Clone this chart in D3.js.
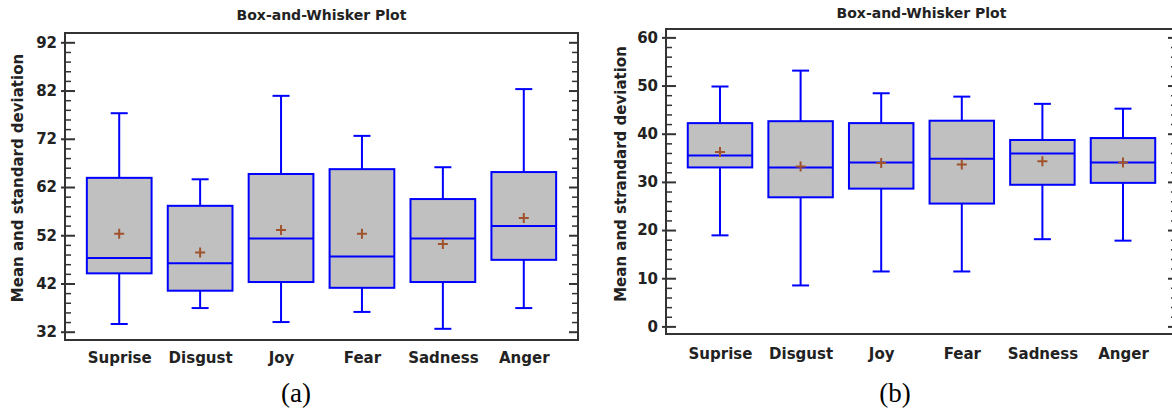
<!DOCTYPE html>
<html>
<head>
<meta charset="utf-8">
<script src="https://cdn.jsdelivr.net/npm/d3@7"></script>
<style>
  html, body { margin: 0; padding: 0; background: #fff; }
  svg { display: block; }
</style>
</head>
<body>
<svg id="chart" width="1172" height="414"></svg>
<script>
// ---------- data ----------
const categories = ["Suprise", "Disgust", "Joy", "Fear", "Sadness", "Anger"];

// panel (a)
const aLow    = [33.6, 36.9, 34.0, 36.1, 32.6, 36.9];
const aQ1     = [44.1, 40.5, 42.3, 41.1, 42.3, 46.9];
const aMedian = [47.3, 46.2, 51.3, 47.6, 51.3, 53.9];
const aQ3     = [63.9, 58.1, 64.7, 65.7, 59.5, 65.1];
const aHigh   = [77.3, 63.6, 80.9, 72.6, 66.1, 82.3];
const aMean   = [52.3, 48.4, 53.1, 52.3, 50.2, 55.6];
const aTicks  = [32, 42, 52, 62, 72, 82, 92];

// panel (b)
const bLow    = [18.9, 8.5, 11.4, 11.4, 18.1, 17.8];
const bQ1     = [33.0, 26.8, 28.6, 25.5, 29.4, 29.8];
const bMedian = [35.5, 33.0, 34.0, 34.8, 35.9, 34.0];
const bQ3     = [42.2, 42.6, 42.2, 42.7, 38.7, 39.1];
const bHigh   = [49.8, 53.1, 48.4, 47.7, 46.2, 45.2];
const bMean   = [36.2, 33.2, 33.9, 33.6, 34.3, 34.0];
const bTicks  = [0, 10, 20, 30, 40, 50, 60];

const chartTitle = "Box-and-Whisker Plot";
const aYLabel = "Mean and standard deviation";
const bYLabel = "Mean and strandard deviation";

// ---------- drawing ----------
const svg = d3.select("#chart");
const FONT = "'DejaVu Sans', Verdana, sans-serif";
const TXT = "#222";
const FRAME = "#333";
const BLUE = "#0000ff";
const FILL = "#c0c0c0";
const MEANC = "#a0522d";

function drawPanel(cfg) {
  const { left, right, top, bottom, domain, ticks, low, q1, med, q3, high, mean,
          yLabel, yLabelX, titleY, catY, caption, captionX } = cfg;
  const g = svg.append("g");

  const x = d3.scalePoint().domain(categories).range([left, right]).padding(0.67);
  const y = d3.scaleLinear().domain(domain).range([bottom, top]);

  // minor ticks every 2 units
  const minor = d3.range(Math.ceil(domain[0] / 2) * 2, domain[1], 2)
    .filter(v => !ticks.includes(v));

  // left axis
  const leftAxis = g.append("g").attr("transform", `translate(${left},0)`)
    .call(d3.axisLeft(y).tickValues(ticks).tickSize(4).tickPadding(4).tickFormat(d3.format("d")));
  leftAxis.select(".domain").remove();
  leftAxis.selectAll(".tick line").attr("x2", -4).attr("x1", 10)
    .attr("stroke", FRAME).attr("stroke-width", 2);
  leftAxis.selectAll(".tick text")
    .attr("x", -8)
    .style("font-family", FONT).style("font-weight", "bold").style("font-size", "15px")
    .attr("fill", TXT);

  const leftMinor = g.append("g").attr("transform", `translate(${left},0)`)
    .call(d3.axisRight(y).tickValues(minor).tickSize(6).tickFormat(""));
  leftMinor.select(".domain").remove();
  leftMinor.selectAll(".tick line").attr("stroke", FRAME).attr("stroke-width", 1.5);

  // right axis (ticks pointing inward)
  const rightAxis = g.append("g").attr("transform", `translate(${right},0)`)
    .call(d3.axisLeft(y).tickValues(ticks).tickSize(9).tickFormat(""));
  rightAxis.select(".domain").remove();
  rightAxis.selectAll(".tick line").attr("stroke", FRAME).attr("stroke-width", 2);
  const rightMinor = g.append("g").attr("transform", `translate(${right},0)`)
    .call(d3.axisLeft(y).tickValues(minor).tickSize(6).tickFormat(""));
  rightMinor.select(".domain").remove();
  rightMinor.selectAll(".tick line").attr("stroke", FRAME).attr("stroke-width", 1.5);

  // bottom axis: category labels only
  const bottomAxis = g.append("g").attr("transform", `translate(0,${bottom})`)
    .call(d3.axisBottom(x).tickSize(0).tickPadding(0));
  bottomAxis.select(".domain").remove();
  bottomAxis.selectAll(".tick text")
    .attr("y", catY - bottom).attr("dy", "0")
    .style("font-family", FONT).style("font-weight", "bold").style("font-size", "15px")
    .attr("fill", TXT);

  // frame
  g.append("rect")
    .attr("x", left).attr("y", top)
    .attr("width", right - left).attr("height", bottom - top)
    .attr("fill", "none").attr("stroke", FRAME).attr("stroke-width", 2);

  const boxW = x.step() * 0.8;
  const capW = 17;

  const data = categories.map((c, i) => ({
    c, low: low[i], q1: q1[i], med: med[i], q3: q3[i], high: high[i], mean: mean[i]
  }));

  const box = g.selectAll(".box").data(data).enter().append("g").attr("class", "box");

  // whiskers
  box.append("line")
    .attr("x1", d => x(d.c)).attr("x2", d => x(d.c))
    .attr("y1", d => y(d.high)).attr("y2", d => y(d.q3))
    .attr("stroke", BLUE).attr("stroke-width", 2);
  box.append("line")
    .attr("x1", d => x(d.c)).attr("x2", d => x(d.c))
    .attr("y1", d => y(d.q1)).attr("y2", d => y(d.low))
    .attr("stroke", BLUE).attr("stroke-width", 2);
  // caps
  box.append("line")
    .attr("x1", d => x(d.c) - capW / 2).attr("x2", d => x(d.c) + capW / 2)
    .attr("y1", d => y(d.high)).attr("y2", d => y(d.high))
    .attr("stroke", BLUE).attr("stroke-width", 2);
  box.append("line")
    .attr("x1", d => x(d.c) - capW / 2).attr("x2", d => x(d.c) + capW / 2)
    .attr("y1", d => y(d.low)).attr("y2", d => y(d.low))
    .attr("stroke", BLUE).attr("stroke-width", 2);
  // box
  box.append("rect")
    .attr("x", d => x(d.c) - boxW / 2).attr("width", boxW)
    .attr("y", d => y(d.q3)).attr("height", d => y(d.q1) - y(d.q3))
    .attr("fill", FILL).attr("stroke", BLUE).attr("stroke-width", 2);
  // median
  box.append("line")
    .attr("x1", d => x(d.c) - boxW / 2).attr("x2", d => x(d.c) + boxW / 2)
    .attr("y1", d => y(d.med)).attr("y2", d => y(d.med))
    .attr("stroke", BLUE).attr("stroke-width", 2);
  // mean plus
  box.append("path")
    .attr("d", d => {
      const cx = x(d.c), cy = y(d.mean);
      return `M${cx - 5},${cy}H${cx + 5}M${cx},${cy - 5}V${cy + 5}`;
    })
    .attr("stroke", MEANC).attr("stroke-width", 2).attr("fill", "none");

  // title
  svg.append("text")
    .attr("x", (left + Math.min(right, 1172 + 5)) / 2).attr("y", titleY)
    .attr("text-anchor", "middle")
    .style("font-family", FONT).style("font-weight", "bold").style("font-size", "14px")
    .attr("fill", TXT).text(chartTitle);

  // y label
  svg.append("text")
    .attr("transform", `translate(${yLabelX},${cfg.yLabelY}) rotate(-90)`)
    .attr("text-anchor", "middle").attr("dy", "0.35em")
    .style("font-family", FONT).style("font-weight", "bold").style("font-size", "15px")
    .attr("fill", TXT).text(yLabel);

  // caption
  svg.append("text")
    .attr("x", captionX).attr("y", 402)
    .attr("text-anchor", "middle")
    .style("font-family", "'Liberation Serif', 'Times New Roman', serif")
    .style("font-size", "27px")
    .attr("fill", "#000").text(caption);
}

drawPanel({
  left: 65, right: 578, top: 33, bottom: 340,
  domain: [30.28, 93.93], ticks: aTicks,
  low: aLow, q1: aQ1, med: aMedian, q3: aQ3, high: aHigh, mean: aMean,
  yLabel: aYLabel, yLabelX: 18, yLabelY: 178, titleY: 20, catY: 363,
  caption: "(a)", captionX: 296
});

drawPanel({
  left: 666, right: 1177, top: 29, bottom: 334,
  domain: [-1.58, 61.74], ticks: bTicks,
  low: bLow, q1: bQ1, med: bMedian, q3: bQ3, high: bHigh, mean: bMean,
  yLabel: bYLabel, yLabelX: 621, yLabelY: 174, titleY: 18, catY: 359,
  caption: "(b)", captionX: 895
});
</script>
</body>
</html>
